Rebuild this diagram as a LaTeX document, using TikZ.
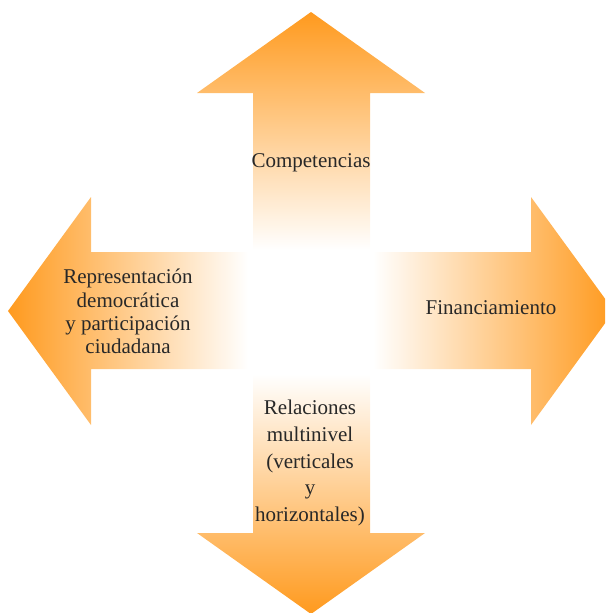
\documentclass[tikz,border=0pt]{standalone}
\usepackage{fontspec}
\setmainfont{Liberation Serif}
\definecolor{arrorange}{RGB}{255,154,30}
\definecolor{arrmid}{RGB}{252,194,148}
\definecolor{txt}{RGB}{40,40,40}
\begin{document}
\begin{tikzpicture}[x=1pt,y=-1pt,
  lbl/.style={text=txt,font=\fontsize{21}{23.2}\selectfont,align=center,inner sep=0pt}]
\useasboundingbox (0,0) rectangle (605,613);
\clip (0,0) rectangle (605,613);
% top arrow
\shade[top color=arrorange, middle color=arrmid, bottom color=white]
  (311,12) -- (425,93) -- (370,93) -- (370,250) -- (253,250) -- (253,93) -- (197,93) -- cycle;
% left arrow
\shade[left color=arrorange, middle color=arrmid, right color=white]
  (8,311) -- (91,197) -- (91,252) -- (248,252) -- (248,369) -- (91,369) -- (91,425) -- cycle;
% right arrow
\shade[left color=white, middle color=arrmid, right color=arrorange]
  (373,252) -- (531,252) -- (531,197) -- (614,311) -- (531,425) -- (531,369) -- (373,369) -- cycle;
% bottom arrow
\shade[top color=white, middle color=arrmid, bottom color=arrorange]
  (253,374) -- (370,374) -- (370,533) -- (425,533) -- (311,614) -- (197,533) -- (253,533) -- cycle;
% labels
\node[lbl, anchor=base] (comp) at (311,167) {Competencias};
\node[lbl, anchor=base] (fin) at (491,314) {Financiamiento};
\node[lbl] (rep) at (128,311.5) {Representación\\democrática\\y participación\\ciudadana};
\node[lbl, font=\fontsize{21}{26.6}\selectfont] (rel) at (310,463) {Relaciones\\multinivel\\(verticales\\y\\horizontales)};
\end{tikzpicture}
\end{document}
